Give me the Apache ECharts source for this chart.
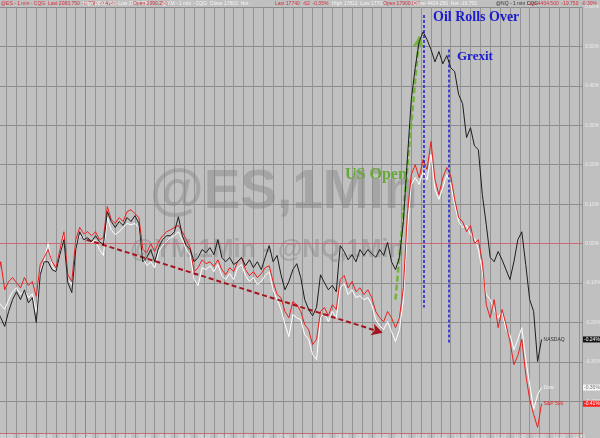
<!DOCTYPE html>
<html><head><meta charset="utf-8">
<script src="https://cdn.jsdelivr.net/npm/echarts/dist/echarts.min.js"></script>
<style>html,body{margin:0;padding:0;background:#c0c0c0}#c{width:600px;height:438px}</style>
</head><body><div id="c"></div><script>
// minutes between samples (x axis unit = minutes since 02:50)
const step = 4;
const timeLabels = ['03:00','03:20','03:40','04:00','04:20','04:40','05:00','05:20','05:40','06:00','06:20','06:40','07:00','07:20','07:40','08:00','08:20','08:40','09:00','09:20','09:40','10:00','10:20','10:40','11:00','11:20','11:40','12:00','12:20','12:40'];
// % change
const nasdaq = [
-0.167,-0.188,-0.210,-0.172,-0.142,-0.122,-0.142,-0.117,-0.150,-0.137,
-0.200,-0.079,-0.046,-0.046,-0.066,-0.071,-0.028,0.010,-0.099,-0.124,
-0.015,0.030,0.010,0.015,0.005,0.020,0.005,-0.003,0.081,0.056,
0.041,0.056,0.046,0.066,0.056,0.071,0.051,-0.046,-0.035,-0.015,
-0.046,-0.010,0.010,0.020,0.020,0.030,0.068,0.020,-0.005,-0.015,
-0.046,-0.035,-0.015,-0.023,-0.010,-0.028,0.010,-0.035,-0.046,-0.035,
-0.053,-0.046,-0.035,-0.056,-0.041,-0.061,-0.046,-0.066,-0.035,-0.005,
-0.046,-0.030,-0.079,-0.117,-0.096,-0.066,-0.051,-0.086,-0.142,-0.167,
-0.183,-0.162,-0.079,-0.099,-0.117,-0.106,-0.122,-0.005,-0.020,-0.041,
-0.028,-0.046,-0.015,-0.030,-0.015,-0.025,-0.035,-0.015,-0.030,0.003,
-0.046,-0.066,-0.035,0.056,0.213,0.365,0.446,0.512,0.537,0.517,
0.492,0.461,0.487,0.456,0.477,0.446,0.436,0.378,0.355,0.269,
0.294,0.248,0.238,0.124,0.048,-0.035,-0.046,-0.020,-0.041,-0.066,
-0.091,-0.046,0.010,0.030,-0.053,-0.142,-0.172,-0.299,-0.243];
const sp500 = [
-0.104,-0.046,-0.117,-0.096,-0.086,-0.099,-0.112,-0.086,-0.106,-0.096,
-0.134,-0.053,-0.035,-0.015,-0.046,-0.061,-0.015,0.030,-0.079,-0.096,
0.010,0.041,0.025,0.030,0.020,0.030,0.010,0.015,0.094,0.061,
0.051,0.066,0.056,0.081,0.086,0.076,0.066,-0.015,-0.023,0.000,
-0.020,0.005,0.020,0.030,0.035,0.041,0.046,0.030,0.010,-0.010,
-0.071,-0.061,-0.041,-0.051,-0.046,-0.058,-0.041,-0.066,-0.079,-0.061,
-0.071,-0.046,-0.035,-0.066,-0.081,-0.071,-0.086,-0.076,-0.061,-0.056,
-0.096,-0.129,-0.137,-0.172,-0.188,-0.147,-0.155,-0.172,-0.205,-0.218,
-0.256,-0.243,-0.172,-0.162,-0.183,-0.155,-0.167,-0.091,-0.081,-0.112,
-0.096,-0.122,-0.112,-0.129,-0.117,-0.137,-0.172,-0.188,-0.198,-0.172,
-0.188,-0.213,-0.188,-0.112,0.074,0.175,0.200,0.167,0.213,0.188,
0.259,0.162,0.124,0.167,0.193,0.172,0.112,0.066,0.056,0.030,
0.046,0.000,0.010,-0.046,-0.155,-0.188,-0.142,-0.213,-0.167,-0.205,
-0.248,-0.307,-0.284,-0.243,-0.332,-0.395,-0.433,-0.466,-0.406];
const dow = [
-0.142,-0.155,-0.167,-0.142,-0.122,-0.112,-0.129,-0.117,-0.137,-0.127,
-0.175,-0.066,-0.046,0.003,-0.056,-0.071,-0.030,0.023,-0.091,-0.104,
-0.005,0.020,0.015,0.010,0.003,0.010,-0.015,-0.030,0.066,0.035,
0.023,0.030,0.041,0.051,0.048,0.051,0.041,-0.035,-0.056,-0.046,
-0.061,-0.020,-0.005,0.005,0.015,0.020,0.030,0.010,-0.015,-0.030,
-0.091,-0.106,-0.061,-0.066,-0.056,-0.071,-0.053,-0.081,-0.091,-0.076,
-0.091,-0.061,-0.053,-0.081,-0.096,-0.086,-0.104,-0.096,-0.081,-0.071,
-0.117,-0.142,-0.167,-0.205,-0.236,-0.180,-0.188,-0.193,-0.231,-0.243,
-0.281,-0.294,-0.188,-0.177,-0.198,-0.172,-0.188,-0.112,-0.101,-0.129,
-0.117,-0.137,-0.132,-0.142,-0.137,-0.155,-0.193,-0.208,-0.218,-0.198,
-0.223,-0.248,-0.218,-0.142,0.035,0.150,0.167,0.150,0.183,0.162,
0.226,0.137,0.112,0.142,0.175,0.150,0.099,0.056,0.041,0.046,
0.023,0.015,-0.015,-0.071,-0.129,-0.142,-0.167,-0.188,-0.172,-0.218,
-0.231,-0.269,-0.243,-0.213,-0.294,-0.357,-0.421,-0.383,-0.365];
// annotations (minutes, %)
const declineArrow = [[91, 0.010], [391, -0.226]];
const usOpenArrow = [[404, -0.142], [428, 0.525]];
const oilLine = [[433, 0.580], [433, -0.162]];
const grexitLine = [[458, 0.492], [458, -0.256]];
const sessionStart = 90;

const toXY = arr => arr.map((v, i) => [i * step, v]);
const chart = echarts.init(document.getElementById('c'), null, {renderer: 'canvas'});
const small = 'normal 5px "Liberation Sans"';
const serif = '"Liberation Serif", "DejaVu Serif", serif';

function seg(pts, color, width, type, arrow) {
  return {
    symbol: ['none', arrow ? 'arrow' : 'none'], symbolSize: arrow ? [9, 11] : 0,
    lineStyle: {color, width, type}, label: {show: false},
    data: [[{coord: pts[0]}, {coord: pts[1]}]]
  };
}

const option = {
  backgroundColor: '#c0c0c0',
  animation: false,
  grid: {left: -3.2, top: 7.0, width: 585.2, height: 433.8, containLabel: false, outerBoundsMode: 'none'},
  xAxis: {
    type: 'value', min: 0, max: 593, interval: 10, offset: -7.8,
    axisLine: {show: true, onZero: false, lineStyle: {color: '#c86a72', width: 1}},
    axisTick: {show: false},
    splitLine: {show: true, lineStyle: {color: '#939393', width: 1}},
    axisLabel: {fontSize: 5, color: '#e4e4e4', margin: 1, showMinLabel: false, showMaxLabel: false,
      formatter: v => (Math.round(v) % 20 === 10 ? (timeLabels[(Math.round(v) - 10) / 20] || '') : '')}
  },
  yAxis: {
    type: 'value', position: 'right', min: -0.5, max: 0.6, interval: 0.1,
    axisLine: {show: true, lineStyle: {color: '#d0606c', width: 1}},
    axisTick: {show: false},
    splitLine: {show: true, lineStyle: {color: '#8c8c8c', width: 1}},
    axisLabel: {fontSize: 5, color: '#ececec', margin: 3, showMinLabel: false,
      formatter: v => v.toFixed(2) + '%'}
  },
  graphic: [
    {type: 'text', z: 1, x: 150, y: 193, silent: true, style: {text: '@ES,1Min', font: 'bold 55px "Liberation Sans"', fill: 'rgba(128,128,128,0.42)', verticalAlign: 'middle'}},
    {type: 'text', z: 1, x: 130, y: 250, silent: true, style: {text: '@YM,1Min - @NQ,1Min', font: 'bold 25px "Liberation Sans"', fill: 'rgba(128,128,128,0.40)', verticalAlign: 'middle'}},
    {type: 'text', z: 50, x: 345, y: 175, style: {text: 'US Open', font: 'bold 16px ' + serif, fill: '#68a83a', verticalAlign: 'middle'}},
    {type: 'text', z: 50, x: 433, y: 17, style: {text: 'Oil Rolls Over', font: 'bold 14px ' + serif, fill: '#1a1ad0', verticalAlign: 'middle'}},
    {type: 'text', z: 50, x: 457, y: 57, style: {text: 'Grexit', font: 'bold 13px ' + serif, fill: '#1a1ad0', verticalAlign: 'middle'}},
    {type: 'text', z: 50, x: 1, y: 1, style: {text: '@ES - 1 min - CQG  Last 2083.750  -8.750  -0.42%', font: small, fill: '#d0303a'}},
    {type: 'text', z: 50, x: 83, y: 1, style: {text: 'High 2092.750  Low 2078.250', font: small, fill: '#f4f4f4'}},
    {type: 'text', z: 50, x: 133, y: 1, style: {text: 'Open 2090.250', font: small, fill: '#d0303a'}},
    {type: 'text', z: 50, x: 162, y: 1, style: {text: '@YM - 1 min - CQG  Close 17802  Net -', font: small, fill: '#f4f4f4'}},
    {type: 'text', z: 50, x: 275, y: 1, style: {text: 'Last 17740  -62  -0.35%', font: small, fill: '#d0303a'}},
    {type: 'text', z: 50, x: 332, y: 1, style: {text: 'High 17812  Low 17701', font: small, fill: '#f4f4f4'}},
    {type: 'text', z: 50, x: 383, y: 1, style: {text: 'Open 17900.000', font: small, fill: '#d0303a'}},
    {type: 'text', z: 50, x: 413, y: 1, style: {text: 'Close 4424.250  Net -19.750', font: small, fill: '#f4f4f4'}},
    {type: 'text', z: 50, x: 496, y: 1, style: {text: '@NQ - 1 min CQG', font: small, fill: '#303030'}},
    {type: 'text', z: 50, x: 527, y: 1, style: {text: 'Last 4404.500  -19.750  -0.30%', font: small, fill: '#d0303a'}}
  ],
  series: [
    {name: 'Dow', type: 'line', data: toXY(dow), showSymbol: false, z: 3,
      lineStyle: {color: '#ffffff', width: 1}, itemStyle: {color: '#ffffff'},
      endLabel: {show: true, formatter: '{a}', fontSize: 5, color: '#f4f4f4', distance: 2}},
    {name: 'S&P 500', type: 'line', data: toXY(sp500), showSymbol: false, z: 4,
      lineStyle: {color: '#e8201e', width: 1}, itemStyle: {color: '#e8201e'},
      endLabel: {show: true, formatter: '{a}', fontSize: 5, color: '#e02020', distance: 2}},
    {name: 'NASDAQ', type: 'line', data: toXY(nasdaq), showSymbol: false, z: 5,
      lineStyle: {color: '#1c1c1c', width: 1}, itemStyle: {color: '#1c1c1c'},
      endLabel: {show: true, formatter: '{a}', fontSize: 5, color: '#333333', distance: 2},
      markLine: {silent: true, symbol: 'none', label: {show: false}, animation: false,
        data: [
          {yAxis: 0, lineStyle: {color: '#cc6a74', width: 1, type: 'solid'}},
          {xAxis: sessionStart, lineStyle: {color: '#cc6a74', width: 1, type: 'solid'}}
        ]}}
  ]
};
// annotation series
const annoSeries = [
  seg(declineArrow, '#a5141c', 2, [5, 3], true),
  seg(usOpenArrow, '#72b43e', 2.5, [6, 3], true),
  seg(oilLine, '#1818d8', 1.5, [3, 2], false),
  seg(grexitLine, '#1818d8', 1.5, [3, 2], false)
];
annoSeries.forEach(ml => option.series.push({type: 'line', data: [], z: 10, silent: true, markLine: Object.assign({silent: true, animation: false}, ml)}));
chart.setOption(option);

// right-side value boxes placed via the library's scale
const lastBoxes = [
  {arr: nasdaq, bg: '#141414', fg: '#ffffff'},
  {arr: dow, bg: '#f4f4f4', fg: '#777777'},
  {arr: sp500, bg: '#ff1e1e', fg: '#ffffff'}
];
const extra = [];
lastBoxes.forEach(b => {
  const v = b.arr[b.arr.length - 1];
  const p = chart.convertToPixel({gridIndex: 0}, [(b.arr.length - 1) * step, v]);
  extra.push({type: 'rect', z: 60, shape: {x: 583, y: p[1] - 3, width: 17, height: 6}, style: {fill: b.bg}});
  extra.push({type: 'text', z: 61, x: 584, y: p[1], style: {text: v.toFixed(2) + '%', font: small, fill: b.fg, verticalAlign: 'middle'}});
});
chart.setOption({graphic: option.graphic.concat(extra)});
</script></body></html>
